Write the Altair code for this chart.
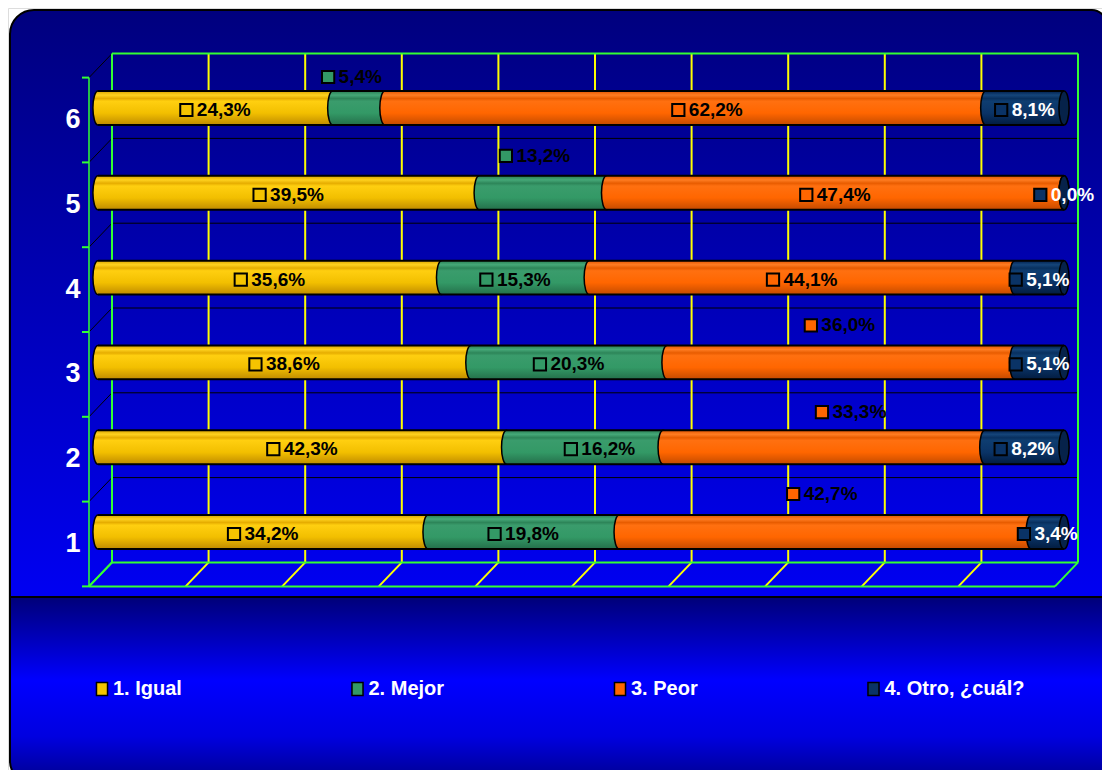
import altair as alt
import pandas as pd

# ---------------- data ----------------
rows = [6, 5, 4, 3, 2, 1]
series = ["1. Igual", "2. Mejor", "3. Peor", "4. Otro, ¿cuál?"]
igual = [24.3, 39.5, 35.6, 38.6, 42.3, 34.2]
mejor = [5.4, 13.2, 15.3, 20.3, 16.2, 19.8]
peor = [62.2, 47.4, 44.1, 36.0, 33.3, 42.7]
otro = [8.1, 0.0, 5.1, 5.1, 8.2, 3.4]
x_ticks = [0, 10, 20, 30, 40, 50, 60, 70, 80, 90, 100]
band_edges = [0.5, 1.5, 2.5, 3.5, 4.5, 5.5, 6.5]

# ---------------- style ----------------
SOLID = ["#f5c400", "#339966", "#ff6600", "#0a3366"]
FONT = "Liberation Sans, Arial, sans-serif"
W, H = 1094, 762
X0, X1 = 90, 1056          # pixel range of 0..100 %
PXPCT = (X1 - X0) / 100.0
YB, YT = 566.4, 57.6       # pixel range of rows 0.5..6.5
PXROW = (YB - YT) / 6.0
HALF = 0.2                 # half bar thickness in row units
BACK_DX, BACK_DY = 14, -12
FRONT_DX, FRONT_DY = -9, 12
GREEN = "#33ff33"
YELLOW = "#ffff00"

XS = alt.Scale(domain=[0, 100], range=[X0, X1], nice=False, zero=False)
YS = alt.Scale(domain=[0.5, 6.5], range=[YB, YT], nice=False, zero=False)

# label displacement (px) for some labels, keyed by (row, series index)
label_shift = {
    (6, 1): (-7, -31),
    (5, 1): (-8, -37),
    (3, 2): (-1, -37),
    (2, 2): (27, -35),
    (1, 2): (-3, -38),
    (6, 2): (22, 2),
    (2, 1): (15, 2),
}

# ---------------- table ----------------
recs = []
vals = [igual, mejor, peor, otro]
for i, r in enumerate(rows):
    tot = sum(v[i] for v in vals)
    acc = 0.0
    for k, s in enumerate(series):
        v = vals[k][i]
        a0 = acc / tot * 100
        acc += v
        a1 = acc / tot * 100
        txt = f"{v:.1f}".replace(".", ",") + "%"
        dx, dy = label_shift.get((r, k), (0, 2))
        cx = (a0 + a1) / 2 + dx / PXPCT
        tw = 10.6 * (len(txt) - 2) + 22.2
        total = 13 + 4 + tw
        recs.append(dict(
            row=r, series=s, k=k, value=v, x0=a0, x1=a1, label=txt,
            y0=r - HALF, y1=r + HALF,
            ly=r - dy / PXROW,
            sqx=cx + (-total / 2 + 6.5) / PXPCT,
            tx=cx + (-total / 2 + 17) / PXPCT,
        ))
df = pd.DataFrame(recs)
ticks = pd.DataFrame({"t": x_ticks})
edges = pd.DataFrame({"b": band_edges})
rowdf = pd.DataFrame({"row": rows, "lab": [str(r) for r in rows]})
one = alt.Data(values=[{"a": 0, "b": 100}])


def grad(stops):
    return alt.Gradient(
        gradient="linear", x1=0, y1=0, x2=0, y2=1,
        stops=[alt.GradientStop(color=c, offset=o) for o, c in stops],
    )


BAR_GRAD = [
    grad([(0, "#d9a300"), (0.12, "#ffd21f"), (0.22, "#e6ad00"), (0.3, "#ffcf10"), (0.65, "#f2bf00"), (1, "#bf8b00")]),
    grad([(0, "#2a7d52"), (0.12, "#45a878"), (0.22, "#2d8559"), (0.3, "#3a9c6c"), (0.65, "#339966"), (1, "#246f4a")]),
    grad([(0, "#e05500"), (0.12, "#ff7d22"), (0.22, "#e85c00"), (0.3, "#ff7010"), (0.65, "#ff6600"), (1, "#c44a00")]),
    grad([(0, "#001f4d"), (0.12, "#15457a"), (0.22, "#08305f"), (0.3, "#0e3d70"), (0.65, "#0a3366"), (1, "#021c40")]),
]

ELLIPSE = "M0,-1 A0.3,1 0 1,1 0,1 A0.3,1 0 1,1 0,-1 Z"
ESIZE = (2 * HALF * PXROW) ** 2

layers = []

# background panels
layers.append(alt.Chart(one).mark_rect(
    fill=grad([(0, "#00007e"), (0.5, "#0000b8"), (1, "#0000f2")]),
    stroke="black", strokeWidth=2, cornerRadiusTopLeft=24, cornerRadiusTopRight=14,
).encode(x=alt.value(2), x2=alt.value(1098), y=alt.value(2), y2=alt.value(589)))
layers.append(alt.Chart(one).mark_rect(
    fill=grad([(0, "#000078"), (0.45, "#0000ff"), (0.75, "#0000e0"), (1, "#00008c")]),
    stroke="black", strokeWidth=2, cornerRadiusBottomLeft=22, cornerRadiusBottomRight=22,
).encode(x=alt.value(2), x2=alt.value(1098), y=alt.value(589), y2=alt.value(775)))

# back wall horizontal lines (black)
layers.append(alt.Chart(edges).transform_filter("datum.b > 1 && datum.b < 6").mark_rule(
    color="black", strokeWidth=1, yOffset=BACK_DY,
).encode(x=alt.value(X0 + BACK_DX), x2=alt.value(X1 + BACK_DX), y=alt.Y("b:Q", scale=YS, axis=None)))
# left diagonals
layers.append(alt.Chart(edges).transform_filter("datum.b > 1").mark_rule(
    color="black", strokeWidth=1, yOffset=FRONT_DY, y2Offset=BACK_DY,
).encode(x=alt.value(X0 + FRONT_DX), x2=alt.value(X0 + BACK_DX),
         y=alt.Y("b:Q", scale=YS, axis=None), y2="b:Q"))
layers.append(alt.Chart(edges).transform_filter("datum.b < 1").mark_rule(
    color=GREEN, strokeWidth=2, yOffset=FRONT_DY, y2Offset=BACK_DY,
).encode(x=alt.value(X0 + FRONT_DX), x2=alt.value(X0 + BACK_DX),
         y=alt.Y("b:Q", scale=YS, axis=None), y2="b:Q"))

# vertical gridlines on back wall
y_top_back = YT + BACK_DY
y_bot_back = YB + BACK_DY
y_bot_front = YB + FRONT_DY
y_top_front = YT + FRONT_DY
for cond, col in [("datum.t > 0 && datum.t < 100", YELLOW), ("datum.t == 0 || datum.t == 100", GREEN)]:
    layers.append(alt.Chart(ticks).transform_filter(cond).mark_rule(
        color=col, strokeWidth=2, xOffset=BACK_DX,
    ).encode(x=alt.X("t:Q", scale=XS, axis=None), y=alt.value(y_top_back), y2=alt.value(y_bot_back)))
    layers.append(alt.Chart(ticks).transform_filter(cond).mark_rule(
        color=col, strokeWidth=2, xOffset=BACK_DX, x2Offset=FRONT_DX,
    ).encode(x=alt.X("t:Q", scale=XS, axis=None), x2="t:Q",
             y=alt.value(y_bot_back), y2=alt.value(y_bot_front)))

# green frame lines
for dxo, yy in [(BACK_DX, y_top_back), (BACK_DX, y_bot_back), (FRONT_DX, y_bot_front)]:
    layers.append(alt.Chart(one).mark_rule(color=GREEN, strokeWidth=2, xOffset=dxo, x2Offset=dxo).encode(
        x=alt.X("a:Q", scale=XS, axis=None), x2="b:Q", y=alt.value(yy)))
# left axis line + ticks
layers.append(alt.Chart(one).mark_rule(color=GREEN, strokeWidth=1.5).encode(
    x=alt.value(X0 + FRONT_DX), y=alt.value(y_top_front), y2=alt.value(y_bot_front)))
layers.append(alt.Chart(edges).mark_rule(color=GREEN, strokeWidth=2, yOffset=FRONT_DY).encode(
    x=alt.value(X0 + FRONT_DX - 7), x2=alt.value(X0 + FRONT_DX), y=alt.Y("b:Q", scale=YS, axis=None)))

# bars: ellipse (segment start) then body, per series
for k, s in enumerate(series):
    sub = f"datum.k == {k}"
    layers.append(alt.Chart(df).transform_filter(sub).mark_point(
        shape=ELLIPSE, size=ESIZE, filled=True, fill=BAR_GRAD[k], stroke="black",
        strokeWidth=1.5, opacity=1,
    ).encode(x=alt.X("x0:Q", scale=XS, axis=None), y=alt.Y("row:Q", scale=YS, axis=None)))
    layers.append(alt.Chart(df).transform_filter(sub).mark_rect(
        fill=BAR_GRAD[k], strokeWidth=0,
    ).encode(x=alt.X("x0:Q", scale=XS, axis=None), x2="x1:Q",
             y=alt.Y("y0:Q", scale=YS, axis=None), y2="y1:Q"))
# right end cap
layers.append(alt.Chart(df).transform_filter("datum.k == 3").mark_point(
    shape=ELLIPSE, size=ESIZE, filled=True, fill="#06224a", stroke="black", strokeWidth=1.5, opacity=1,
).encode(x=alt.X("x1:Q", scale=XS, axis=None), y=alt.Y("row:Q", scale=YS, axis=None)))
# top / bottom outlines of the cylinders
for fld in ["y0", "y1"]:
    layers.append(alt.Chart(df).transform_filter("datum.k == 0").mark_rule(
        color="black", strokeWidth=2,
    ).encode(x=alt.value(X0), x2=alt.value(X1), y=alt.Y(f"{fld}:Q", scale=YS, axis=None)))

# label squares (legend source)
layers.append(alt.Chart(df).mark_point(
    shape="square", size=150, filled=True, stroke="black", strokeWidth=2, opacity=1,
).encode(
    x=alt.X("sqx:Q", scale=XS, axis=None),
    y=alt.Y("ly:Q", scale=YS, axis=None),
    color=alt.Color("series:N", scale=alt.Scale(domain=series, range=SOLID), legend=alt.Legend(
        orient="none", legendX=84, legendY=671, direction="horizontal", title=None,
        labelColor="white", labelFont=FONT, labelFontSize=20, labelFontWeight="bold",
        symbolType="M-0.85,-1H0.85V1H-0.85Z", symbolSize=169, symbolStrokeColor="black",
        symbolStrokeWidth=1.5, symbolOpacity=1, columnPadding=165.5, labelOffset=1, padding=0,
        symbolOffset=0,
    )),
))
# label texts
layers.append(alt.Chart(df).mark_text(
    align="left", baseline="middle", font=FONT, fontSize=19, fontWeight="bold",
).encode(
    x=alt.X("tx:Q", scale=XS, axis=None),
    y=alt.Y("ly:Q", scale=YS, axis=None),
    text="label:N",
    color=alt.condition("datum.k == 3", alt.value("white"), alt.value("black")),
))

# row labels
layers.append(alt.Chart(rowdf).mark_text(
    align="center", baseline="middle", font=FONT, fontSize=27, fontWeight="bold", color="white",
    dy=FRONT_DY,
).encode(x=alt.value(65), y=alt.Y("row:Q", scale=YS, axis=None), text="lab:N"))

chart = alt.layer(*layers).properties(
    width=W, height=H, autosize=alt.AutoSizeParams(type="none"), padding=0,
).configure_view(stroke=None).configure(background="white")

chart.save("out.html", embed_options={"renderer": "svg", "actions": False})
